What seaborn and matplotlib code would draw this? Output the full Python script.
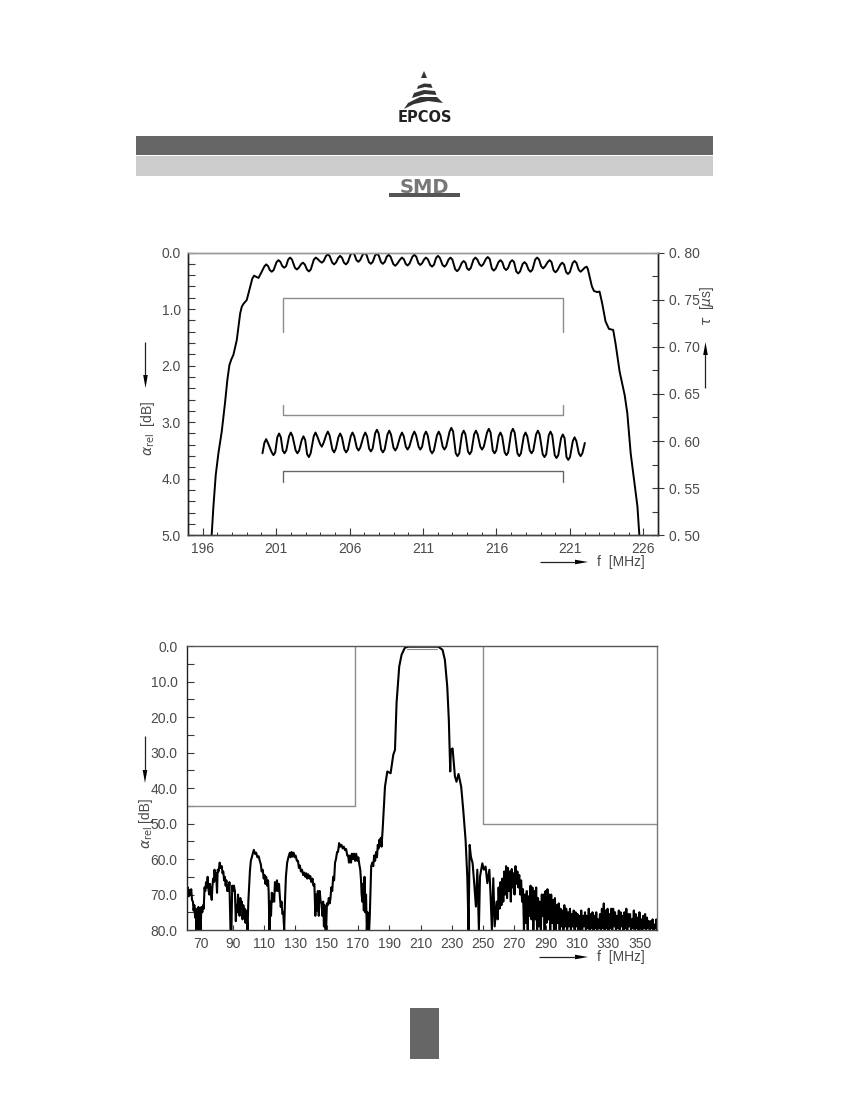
import matplotlib
matplotlib.use('Agg')
import matplotlib.pyplot as plt
from matplotlib.patches import Polygon, Rectangle
import seaborn as sns

# passband detail: attenuation
att_freq = [196.61, 196.73, 196.89, 197.07, 197.3, 197.52, 197.68, 197.82, 197.95, 198.09, 198.32, 198.55, 198.66, 198.77,
            199.0, 199.23, 199.38, 199.5, 199.65, 199.8, 200.02, 200.19, 200.32, 200.45, 200.57, 200.7, 200.83,
            201.03, 201.16, 201.29, 201.42, 201.55, 201.68, 201.82, 201.95, 202.08, 202.28, 202.41, 202.54,
            202.69, 202.82, 202.95, 203.1, 203.23, 203.36, 203.57, 203.7, 203.83, 203.98, 204.11, 204.24,
            204.39, 204.52, 204.65, 204.82, 204.95, 205.08, 205.23, 205.36, 205.49, 205.62, 205.75, 205.88,
            206.07, 206.2, 206.33, 206.47, 206.6, 206.73, 206.89, 207.02, 207.15, 207.32, 207.45, 207.58,
            207.73, 207.86, 207.99, 208.14, 208.27, 208.4, 208.53, 208.66, 208.79, 208.98, 209.11, 209.24,
            209.44, 209.57, 209.7, 209.82, 209.95, 210.08, 210.28, 210.41, 210.54, 210.69, 210.82, 210.95,
            211.07, 211.2, 211.33, 211.49, 211.62, 211.75, 211.89, 212.02, 212.15, 212.33, 212.46, 212.59,
            212.74, 212.87, 213.0, 213.19, 213.32, 213.45, 213.64, 213.77, 213.9, 213.99, 214.12, 214.25,
            214.44, 214.57, 214.7, 214.85, 214.98, 215.11, 215.28, 215.41, 215.54, 215.69, 215.82, 215.95,
            216.14, 216.27, 216.4, 216.53, 216.66, 216.79, 216.94, 217.07, 217.2, 217.35, 217.48, 217.61,
            217.78, 217.91, 218.04, 218.19, 218.32, 218.45, 218.64, 218.77, 218.9, 219.05, 219.18, 219.31,
            219.49, 219.62, 219.75, 219.89, 220.02, 220.15, 220.35, 220.48, 220.61, 220.74, 220.87, 221.0,
            221.19, 221.32, 221.45, 221.6, 221.73, 221.86, 222.0, 222.14, 222.22, 222.37, 222.5, 222.64, 222.85, 223.02,
            223.2, 223.43, 223.66, 223.95, 224.11, 224.39, 224.73, 224.91, 225.14, 225.37, 225.6, 225.73]
att_db = [5.0, 4.49, 3.93, 3.55, 3.16, 2.66, 2.25, 1.99, 1.89, 1.81, 1.55, 1.08, 0.96, 0.91,
          0.84, 0.61, 0.46, 0.41, 0.43, 0.45, 0.34, 0.25, 0.21, 0.24, 0.31, 0.34, 0.31,
          0.17, 0.135, 0.165, 0.24, 0.27, 0.24, 0.125, 0.09, 0.125, 0.27, 0.30, 0.27,
          0.21, 0.18, 0.21, 0.30, 0.335, 0.30, 0.125, 0.09, 0.115, 0.155, 0.18, 0.15,
          0.065, 0.03, 0.065, 0.18, 0.21, 0.175, 0.095, 0.06, 0.095, 0.18, 0.21, 0.175,
          0.035, 0.0, 0.035, 0.135, 0.165, 0.13, 0.04, 0.005, 0.04, 0.17, 0.2, 0.165,
          0.055, 0.02, 0.055, 0.17, 0.2, 0.165, 0.075, 0.04, 0.075, 0.205, 0.235, 0.2,
          0.125, 0.09, 0.12, 0.2, 0.23, 0.195, 0.075, 0.04, 0.075, 0.19, 0.22, 0.185,
          0.125, 0.09, 0.12, 0.22, 0.25, 0.215, 0.095, 0.06, 0.095, 0.22, 0.25, 0.215,
          0.125, 0.09, 0.125, 0.295, 0.33, 0.295, 0.185, 0.15, 0.185, 0.275, 0.31, 0.275,
          0.125, 0.09, 0.125, 0.21, 0.24, 0.205, 0.115, 0.08, 0.115, 0.285, 0.32, 0.285,
          0.17, 0.135, 0.17, 0.275, 0.31, 0.275, 0.17, 0.135, 0.17, 0.335, 0.37, 0.335,
          0.205, 0.17, 0.205, 0.305, 0.34, 0.305, 0.125, 0.09, 0.125, 0.245, 0.28, 0.245,
          0.17, 0.135, 0.17, 0.315, 0.35, 0.315, 0.215, 0.18, 0.215, 0.345, 0.38, 0.345,
          0.185, 0.15, 0.185, 0.305, 0.34, 0.31, 0.27, 0.25, 0.29, 0.46, 0.60, 0.68, 0.70, 0.69,
          0.90, 1.22, 1.35, 1.37, 1.61, 2.11, 2.52, 2.84, 3.55, 4.02, 4.49, 5.0]

# passband detail: group delay
delay_freq = [200.07, 200.2, 200.32, 200.44, 200.7, 200.82, 200.94, 201.08, 201.2, 201.32, 201.45, 201.57, 201.69,
              201.88, 202.0, 202.12, 202.33, 202.45, 202.57, 202.74, 202.86, 202.98, 203.11, 203.23, 203.35,
              203.56, 203.68, 203.8, 203.99, 204.11, 204.23, 204.4, 204.52, 204.64, 204.83, 204.95, 205.07,
              205.24, 205.36, 205.48, 205.65, 205.77, 205.89, 206.08, 206.2, 206.32, 206.49, 206.61, 206.73,
              206.95, 207.07, 207.19, 207.33, 207.45, 207.57, 207.74, 207.86, 207.98, 208.15, 208.27, 208.39,
              208.58, 208.7, 208.82, 208.99, 209.11, 209.23, 209.45, 209.57, 209.69, 209.83, 209.95, 210.07,
              210.29, 210.41, 210.53, 210.7, 210.82, 210.94, 211.08, 211.2, 211.32, 211.5, 211.62, 211.74,
              211.95, 212.07, 212.19, 212.34, 212.46, 212.58, 212.81, 212.93, 213.05, 213.23, 213.35, 213.47,
              213.65, 213.77, 213.89, 214.06, 214.18, 214.3, 214.48, 214.6, 214.72, 214.9, 215.02, 215.14,
              215.36, 215.48, 215.6, 215.75, 215.87, 215.99, 216.15, 216.27, 216.39, 216.56, 216.68, 216.8,
              217.0, 217.12, 217.24, 217.43, 217.55, 217.67, 217.86, 217.98, 218.1, 218.27, 218.39, 218.51,
              218.7, 218.82, 218.94, 219.15, 219.27, 219.39, 219.56, 219.68, 219.8, 219.97, 220.09, 220.21,
              220.4, 220.52, 220.64, 220.77, 220.89, 221.01, 221.2, 221.32, 221.44, 221.61, 221.73, 221.85, 222.02]
delay_us = [0.587, 0.598, 0.602, 0.598, 0.588, 0.585, 0.588, 0.604, 0.608, 0.604, 0.590, 0.587, 0.590,
            0.605, 0.609, 0.605, 0.590, 0.587, 0.590, 0.601, 0.605, 0.601, 0.586, 0.583, 0.587,
            0.605, 0.609, 0.605, 0.597, 0.594, 0.598, 0.606, 0.610, 0.606, 0.591, 0.588, 0.592,
            0.604, 0.608, 0.604, 0.591, 0.588, 0.591, 0.605, 0.609, 0.605, 0.593, 0.590, 0.593,
            0.605, 0.609, 0.605, 0.592, 0.589, 0.592, 0.608, 0.612, 0.608, 0.591, 0.588, 0.591,
            0.607, 0.611, 0.607, 0.593, 0.590, 0.593, 0.605, 0.609, 0.605, 0.594, 0.591, 0.594,
            0.606, 0.610, 0.606, 0.594, 0.591, 0.594, 0.606, 0.610, 0.606, 0.590, 0.587, 0.590,
            0.606, 0.610, 0.606, 0.594, 0.591, 0.594, 0.610, 0.614, 0.610, 0.587, 0.584, 0.587,
            0.607, 0.611, 0.607, 0.589, 0.586, 0.589, 0.607, 0.611, 0.607, 0.594, 0.591, 0.594,
            0.609, 0.613, 0.609, 0.590, 0.587, 0.590, 0.605, 0.609, 0.605, 0.588, 0.585, 0.588,
            0.609, 0.613, 0.609, 0.587, 0.584, 0.587, 0.605, 0.609, 0.605, 0.590, 0.587, 0.590,
            0.607, 0.611, 0.607, 0.586, 0.583, 0.586, 0.606, 0.610, 0.606, 0.585, 0.582, 0.585,
            0.603, 0.607, 0.603, 0.583, 0.580, 0.583, 0.600, 0.604, 0.600, 0.587, 0.584, 0.587, 0.598]

# tolerance brackets of the detail chart
spec_freq = [201.5, 220.5]
spec_top_db = 0.8
spec_top_end_db = 1.4
spec_mid_db = 2.87
spec_mid_end_db = 2.7
spec_low_db = 3.86
spec_low_end_db = 4.05

# wideband chart
wide_freq_low = [61, 61.4, 61.9, 62.5, 63, 63.5, 64, 64.6, 65, 65.5, 66, 66.4, 66.8, 67.3, 67.7, 68.1, 68.6, 69, 69.5, 70,
                 70.6, 71.1, 71.5, 72, 72.5, 73, 73.5, 74, 74.5, 75, 75.5, 75.9, 76.6, 77, 77.5, 78, 78.4, 78.9, 79.4, 80,
                 80.4, 81, 81.7, 82.2, 83, 83.5, 84, 84.5, 85, 85.5, 86, 86.5, 87, 87.5, 87.9, 88.6, 89.2, 89.7, 90.3, 90.8,
                 91.4, 92, 92.5, 92.9, 93.4, 93.8, 94.4, 94.9, 95.4, 95.8, 96.3, 96.8, 97.2, 97.7, 98.2, 98.7, 99.1, 99.5, 100,
                 101, 101.6, 102.5, 103.5, 104.3, 105, 105.8, 106.6, 107.3, 108, 108.5, 109.2, 109.8, 110.4, 110.9, 111.4,
                 112, 112.6, 113, 113.5, 114, 114.5, 115, 115.5, 116, 116.5, 117, 117.6, 118.3, 118.9, 119.6, 120.2, 120.7,
                 121.2, 121.8, 122.3, 122.9, 123.4, 124, 124.8, 125.6, 126.5, 127, 127.6, 128.2, 128.9, 129.6, 130.2, 131,
                 131.7, 132.3, 132.9, 133.6, 134.3, 135, 135.7, 136.4, 137, 137.6, 138.3, 139, 139.6, 140.3, 141, 141.6,
                 142.2, 142.8, 143.3, 143.9, 144.4, 145, 145.6, 146.2, 146.8, 147.3, 147.8, 148.3, 148.7, 149.2, 149.7,
                 150.2, 150.8, 151.4, 152, 152.5, 153, 153.6, 154.2, 154.8, 155.4, 156, 156.7, 157.3, 158, 158.7, 159.5,
                 160.3, 161, 161.8, 162.5, 163.2, 163.8, 164.3, 165, 165.6, 166.2, 166.9, 167.5, 168.2, 168.9, 169.6, 170.3,
                 170.9, 171.5, 172, 172.4, 172.9, 173.3, 173.8, 174.2, 174.7, 175.2, 175.7, 176.2, 176.7, 177.2, 177.6, 178,
                 178.5, 179.2, 179.8, 180.4, 181, 181.6, 182.2, 182.7, 183.2, 183.8, 184.3, 184.7, 185.1, 185.8]
wide_db_low = [70, 68, 70.5, 68.7, 70, 68.5, 71.5, 72, 74.5, 73, 76.5, 74, 80, 74.5, 80, 73.5, 80, 74, 80, 73.5,
               75, 73, 74, 68, 69, 66.5, 68, 65, 68.5, 70, 67, 69, 71.5, 68, 65.5, 66.5, 63, 66, 64, 69.5,
               63, 63.5, 61, 62.5, 62, 64, 63.5, 66, 65, 67.5, 66, 69, 67.5, 69, 66.5, 80, 80, 67.5, 69, 67.5,
               69, 77.5, 73, 75, 70, 72, 76, 71, 74, 72, 77, 73, 76, 74, 78, 74.5, 77, 80, 72,
               63.5, 60.5, 59, 57.4, 58.5, 58.2, 59.5, 59.2, 60.5, 61.5, 63.5, 63, 65.5, 64.5, 67, 65,
               67.5, 66, 69.5, 80, 72, 76, 69.5, 72, 70, 72, 66.5, 69, 66, 69, 67, 71, 73.5,
               72, 75.5, 75, 80, 72, 65, 61, 59.5, 58.2, 59.5, 58, 59.3, 58.2, 59.5, 59, 60.5,
               60.5, 62.5, 61.8, 63.5, 63, 64.5, 63.8, 65, 64, 65.5, 64.3, 65.5, 64.8, 66.5, 65.5, 67.5,
               67, 76, 70, 74.5, 69, 76, 69, 72, 72.5, 76, 72, 79, 73, 80, 80,
               72.5, 73, 71, 72.5, 71, 68, 69, 65, 66, 61, 60, 58, 58, 55.5, 56.5, 56,
               57, 56.5, 57.5, 57.2, 59, 59, 61, 59, 61, 58.5, 60, 58.5, 60.5, 58.5, 60.5, 59.5,
               61.5, 63, 66, 70, 72, 67, 74.5, 65, 75, 70, 80, 75, 80, 80, 76, 70,
               62, 61, 62, 59, 60.5, 58, 59.5, 56, 57, 54.5, 56, 54, 56.5, 51.8]
wide_freq_pass = [187.3, 188.8, 190.9, 192.6, 193.7, 194.7, 196.4, 197.9, 200, 202.2, 209.6, 221.3, 224.1, 225.6, 227.1, 228.1,
                  229, 229.4, 230.5, 232, 233, 234.3, 236, 237.3, 238.8, 239.9, 240.7, 241.4, 242.2, 243.3, 244.3, 245.4,
                  246.3, 247.3, 248, 249.5, 250.5, 251.6, 252.7, 254, 254.8, 255.6, 256.5, 257.4]
wide_db_pass = [39.6, 35.3, 35.8, 30.6, 29.2, 16, 5.7, 2.4, 0.4, 0.1, 0.1, 0.1, 1, 3.9, 11.4, 20.8,
                35.3, 29.2, 28.8, 36.7, 38.2, 36, 39.6, 46.1, 54.6, 65, 80, 56, 59.3, 61.2, 66.8, 73.4,
                63, 80, 65, 61.2, 63, 62.1, 66.8, 63, 70.6, 80, 65.4, 79]
wide_freq_high = [258.6, 259.3, 259.9, 260.5, 261.1, 261.7, 262.3, 262.9, 263.5, 264.1,
                  264.7, 265.3, 265.9, 266.5, 267.1, 267.7, 268.3, 268.9, 269.5, 270.1,
                  270.7, 271.3, 271.9, 272.5, 273.1, 273.7, 274.3, 274.9, 275.5, 276.1,
                  276.7, 277.3, 277.9, 278.5, 279.1, 279.7, 280.3, 280.9, 281.5, 282.1,
                  282.7, 283.3, 283.9, 284.5, 285.1, 285.7, 286.3, 286.9, 287.5, 288.1,
                  288.7, 289.3, 289.9, 290.5, 291.1, 291.7, 292.3, 292.9, 293.5, 294.1,
                  294.7, 295.3, 295.9, 296.5, 297.1, 297.7, 298.3, 298.9, 299.5, 300.1,
                  300.7, 301.3, 301.9, 302.5, 303.1, 303.7, 304.3, 304.9, 305.5, 306.1,
                  306.7, 307.3, 307.9, 308.5, 309.1, 309.7, 310.3, 310.9, 311.5, 312.1,
                  312.7, 313.3, 313.9, 314.5, 315.1, 315.7, 316.3, 316.9, 317.5, 318.1,
                  318.7, 319.3, 319.9, 320.5, 321.1, 321.7, 322.3, 322.9, 323.5, 324.1,
                  324.7, 325.3, 325.9, 326.5, 327.1, 327.7, 328.3, 328.9, 329.5, 330.1,
                  330.7, 331.3, 331.9, 332.5, 333.1, 333.7, 334.3, 334.9, 335.5, 336.1,
                  336.7, 337.3, 337.9, 338.5, 339.1, 339.7, 340.3, 340.9, 341.5, 342.1,
                  342.7, 343.3, 343.9, 344.5, 345.1, 345.7, 346.3, 346.9, 347.5, 348.1,
                  348.7, 349.3, 349.9, 350.5, 351.1, 351.7, 352.3, 352.9, 353.5, 354.1,
                  354.7, 355.3, 355.9, 356.5, 357.1, 357.7, 358.3, 358.9, 359.5, 360.1,
                  360.7, 361.0]
wide_db_high = [72, 77, 68, 74, 66.5, 73, 65.5, 72, 63.5, 70,
                62, 71, 62.5, 69, 63.5, 72, 62.8, 68, 64, 70,
                62, 67, 63.5, 68, 64.5, 70, 66, 72, 68.5, 80,
                70, 78, 69, 80, 70.5, 76, 67.5, 77, 68, 80,
                69, 77, 68, 80, 71, 79, 72, 80, 70, 76,
                70, 80, 69, 78, 68.5, 77, 70, 80, 70, 78,
                71.5, 80, 71, 80, 73, 78, 72.5, 80, 74, 79,
                74.5, 80, 73, 79, 74, 80, 75, 79, 74, 80,
                75.5, 79, 74.5, 80, 75, 79, 75.5, 80, 76, 80,
                74.5, 80, 76, 79, 75, 80, 76, 79.5, 74, 80,
                75.5, 79.5, 75, 80, 76, 79.5, 75, 80, 77, 79.5,
                75.5, 80, 74, 79.5, 72.5, 80, 74.5, 79.5, 74, 80,
                75.5, 79.5, 74, 80, 74, 79, 75, 80, 76, 79.5,
                74.5, 80, 75, 79, 76, 80, 75, 79.5, 74, 80,
                75.5, 79, 75.5, 80, 77, 79.5, 74.5, 80, 75.5, 79.5,
                76.5, 80, 75, 79.5, 77, 80, 76, 79.5, 75.5, 80,
                76.5, 79.5, 77.5, 80, 77.5, 79.5, 77, 80, 78.5, 79.5,
                77, 80]

# stopband limits of the wideband chart
limit_left_freq = [61, 168, 168]
limit_left_db = [45, 45, 0]
limit_right_freq = [250, 250, 361]
limit_right_db = [0, 50, 50]
limit_pass_freq = [201.5, 220.5]
limit_pass_db = [0.8, 0.8]

detail_xticks = [196, 201, 206, 211, 216, 221, 226]
detail_yticks = [0, 1, 2, 3, 4, 5]
delay_ticks = [0.80, 0.75, 0.70, 0.65, 0.60, 0.55, 0.50]
wide_xticks = [70, 90, 110, 130, 150, 170, 190, 210, 230, 250, 270, 290, 310, 330, 350]
wide_yticks = [0, 10, 20, 30, 40, 50, 60, 70, 80]

W, H = 850, 1100
DARK = '#3a3a3a'
TXT = '#4a4a4a'
GREY = '#8c8c8c'

sns.set_theme(style='white')
plt.rcParams['font.family'] = ['Liberation Sans', 'DejaVu Sans']
plt.rcParams['mathtext.fontset'] = 'dejavusans'

fig = plt.figure(figsize=(8.5, 11), dpi=100)


def axes_px(left, top, right, bottom):
    return fig.add_axes([left / W, 1 - bottom / H, (right - left) / W, (bottom - top) / H])


# page furniture, in pixel coordinates
page = fig.add_axes([0, 0, 1, 1], zorder=5)
page.set_xlim(0, W)
page.set_ylim(H, 0)
page.axis('off')
page.patch.set_alpha(0)

page.add_patch(Rectangle((136, 136), 577, 19, color='#666666', lw=0))
page.add_patch(Rectangle((136, 156), 577, 20, color='#cccccc', lw=0))
page.add_patch(Rectangle((410, 1008), 29, 51, color='#666666', lw=0))
logo_parts = [
    [(421, 78), (427, 78), (424, 71)],
    [(418, 86), (424, 83.5), (431, 84), (432.5, 88), (425, 87), (417, 89)],
    [(414, 93), (424, 90), (435, 91), (436.5, 95), (425, 94), (412, 98)],
    [(408, 103), (420, 97), (437, 97), (443, 103), (428, 101), (414, 104), (404, 109)],
]
for part in logo_parts:
    page.add_patch(Polygon(part, closed=True, color='#333333', lw=0))
page.text(424.5, 118, 'EPCOS', fontsize=10.5, fontweight='bold', family='DejaVu Sans',
          color='#222222', ha='center', va='center')
page.add_patch(Rectangle((389, 193), 71, 4, color='#555555', lw=0))
page.text(424.5, 187.5, 'SMD', fontsize=14, fontweight='bold', family='DejaVu Sans',
          color='#777777', ha='center', va='center')


def arrow_down(x, y0, y1):
    page.plot([x, x], [y0, y1 - 12], color='#222222', lw=0.9, solid_capstyle='butt')
    page.add_patch(Polygon([(x - 2.3, y1 - 13), (x + 2.3, y1 - 13), (x, y1)], closed=True, color='black', lw=0))


def arrow_up(x, y0, y1):
    page.plot([x, x], [y0, y1 + 12], color='#222222', lw=0.9, solid_capstyle='butt')
    page.add_patch(Polygon([(x - 2.3, y1 + 13), (x + 2.3, y1 + 13), (x, y1)], closed=True, color='black', lw=0))


def arrow_right(x0, x1, y):
    page.plot([x0, x1 - 12], [y, y], color='#222222', lw=0.9, solid_capstyle='butt')
    page.add_patch(Polygon([(x1 - 13, y - 2.3), (x1 - 13, y + 2.3), (x1, y)], closed=True, color='black', lw=0))


def page_label(x, y, s, rot=0, size=10, ha='center', va='center'):
    page.text(x, y, s, fontsize=size, color=TXT, rotation=rot, ha=ha, va=va)


# --- detail chart ---
ax1 = axes_px(188, 252.5, 658, 535.3)
sns.lineplot(x=att_freq, y=att_db, ax=ax1, color='black', lw=1.4, estimator=None, sort=False)
ax1.plot([spec_freq[0], spec_freq[0], spec_freq[1], spec_freq[1]],
         [spec_top_end_db, spec_top_db, spec_top_db, spec_top_end_db], color=GREY, lw=1)
ax1.plot([spec_freq[0], spec_freq[0], spec_freq[1], spec_freq[1]],
         [spec_mid_end_db, spec_mid_db, spec_mid_db, spec_mid_end_db], color=GREY, lw=1)
ax1.plot([spec_freq[0], spec_freq[0], spec_freq[1], spec_freq[1]],
         [spec_low_end_db, spec_low_db, spec_low_db, spec_low_end_db], color='#666666', lw=1)
ax1.set_xlim(195, 227)
ax1.set_ylim(5, 0)
ax1.set_xticks(detail_xticks)
ax1.set_xticks(range(196, 227), minor=True)
ax1.set_yticks(detail_yticks)
ax1.set_yticklabels([f'{v:.1f}' for v in detail_yticks])
ax1.set_yticks([v / 5 for v in range(26)], minor=True)
ax1.tick_params(axis='x', which='major', direction='in', length=5, width=0.8, color=DARK,
                labelsize=10, labelcolor=TXT, pad=5, bottom=True)
ax1.tick_params(axis='x', which='minor', direction='in', length=2.5, width=0.7, color=DARK, bottom=True)
ax1.tick_params(axis='y', which='both', direction='in', length=5, width=0.8, color=DARK, left=True,
                labelsize=10, labelcolor=TXT, pad=5)

ax1r = ax1.twinx()
sns.lineplot(x=delay_freq, y=delay_us, ax=ax1r, color='black', lw=1.4, estimator=None, sort=False)
ax1r.set_ylim(0.5, 0.8)
ax1r.set_ylabel('')
ax1r.set_yticks(delay_ticks)
ax1r.set_yticklabels([f'{v:.2f}'.replace('.', '. ') for v in delay_ticks])
ax1r.set_yticks([0.5 + v * 0.025 for v in range(13)], minor=True)
ax1r.tick_params(axis='y', which='major', direction='inout', length=8, width=0.8, color=DARK, right=True,
                 labelsize=10, labelcolor=TXT, pad=4)
ax1r.tick_params(axis='y', which='minor', direction='in', length=4, width=0.8, color=DARK, right=True)
ax1r.grid(False)

for a in (ax1, ax1r):
    a.spines['left'].set_color('#222222')
    a.spines['right'].set_color('#222222')
    a.spines['bottom'].set_color('#444444')
    a.spines['top'].set_color('#999999')
    for sp in a.spines.values():
        sp.set_linewidth(1)

page_label(148, 428, r'$\alpha_{\mathrm{rel}}$  [dB]', rot=90)
arrow_down(145.5, 342, 388)
page_label(707, 306, r'$\tau$  [$\mu$s]', rot=90)
arrow_up(705.5, 388, 342)
arrow_right(540, 588, 562)
page_label(597, 562, 'f  [MHz]', ha='left', size=10)

# --- wideband chart ---
ax2 = axes_px(187.3, 646.3, 657.3, 930)
sns.lineplot(x=wide_freq_low + wide_freq_pass + wide_freq_high, y=wide_db_low + wide_db_pass + wide_db_high,
             ax=ax2, color='black', lw=1.5, estimator=None, sort=False)
sns.lineplot(x=limit_left_freq, y=limit_left_db, ax=ax2, color=GREY, lw=1, estimator=None, sort=False)
sns.lineplot(x=limit_right_freq, y=limit_right_db, ax=ax2, color=GREY, lw=1, estimator=None, sort=False)
sns.lineplot(x=limit_pass_freq, y=limit_pass_db, ax=ax2, color=GREY, lw=0.8, estimator=None, sort=False)
ax2.set_xlim(61, 361.3)
ax2.set_ylim(80, 0)
ax2.set_xticks(wide_xticks)
ax2.set_yticks(wide_yticks)
ax2.set_yticklabels([f'{v:.1f}' for v in wide_yticks])
ax2.set_yticks(range(0, 81, 5), minor=True)
ax2.tick_params(axis='x', which='major', direction='in', length=3.5, width=0.8, color=DARK, bottom=True,
                labelsize=10, labelcolor=TXT, pad=5)
ax2.tick_params(axis='y', which='both', direction='in', length=5, width=0.8, color=DARK, left=True,
                labelsize=10, labelcolor=TXT, pad=7)
ax2.spines['left'].set_color('#222222')
ax2.spines['bottom'].set_color('#444444')
ax2.spines['top'].set_color('#555555')
ax2.spines['right'].set_color('#777777')
for sp in ax2.spines.values():
    sp.set_linewidth(1)

page_label(148, 838, r'$\alpha_{\mathrm{rel}}$', rot=90)
page_label(145, 810, '[dB]', rot=90, size=10)
arrow_down(145, 736, 783)
arrow_right(539, 588, 957)
page_label(597, 957, 'f  [MHz]', ha='left', size=10)

fig.savefig('out.png', dpi=100, facecolor='white')
